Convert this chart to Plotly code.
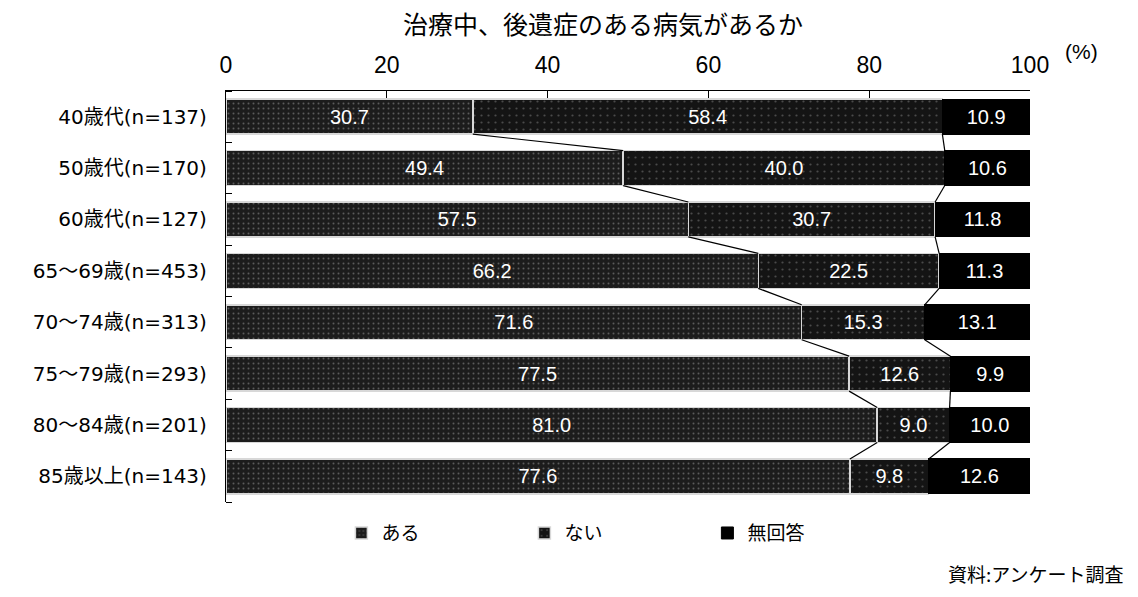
import plotly.graph_objects as go

categories = ["40歳代(n=137)", "50歳代(n=170)", "60歳代(n=127)", "65～69歳(n=453)",
              "70～74歳(n=313)", "75～79歳(n=293)", "80～84歳(n=201)", "85歳以上(n=143)"]
aru = [30.7, 49.4, 57.5, 66.2, 71.6, 77.5, 81.0, 77.6]
nai = [58.4, 40.0, 30.7, 22.5, 15.3, 12.6, 9.0, 9.8]
mukaito = [10.9, 10.6, 11.8, 11.3, 13.1, 9.9, 10.0, 12.6]
series_names = ["ある", "ない", "無回答"]
x_ticks = [0, 20, 40, 60, 80, 100]

FONT = "Liberation Sans, Arial, Noto Sans CJK JP, sans-serif"
LBLFONT = "DejaVu Sans, Noto Sans CJK JP, sans-serif"
CJK = "Noto Sans CJK JP, sans-serif"
ypos = list(range(len(categories)))
W = 0.68

fig = go.Figure()
fig.add_trace(go.Bar(
    y=ypos, x=aru, orientation="h", name=series_names[0], width=W,
    marker=dict(color="#1c1c1c", line=dict(color="#d8d8d8", width=1.5),
                pattern=dict(shape=".", fgcolor="#9a9a9a", bgcolor="#1c1c1c", size=5, solidity=0.12)),
    text=[f"{v:.1f}" for v in aru], textposition="inside", insidetextanchor="middle",
    textfont=dict(color="white", size=20, family=FONT), texttemplate="%{text}",
))
fig.add_trace(go.Bar(
    y=ypos, x=nai, orientation="h", name=series_names[1], width=W,
    marker=dict(color="#141414", line=dict(color="#d8d8d8", width=1.5),
                pattern=dict(shape=".", fgcolor="#808080", bgcolor="#141414", size=7, solidity=0.08)),
    text=[f"{v:.1f}" for v in nai], textposition="inside", insidetextanchor="middle",
    textfont=dict(color="white", size=20, family=FONT), texttemplate="%{text}",
))
fig.add_trace(go.Bar(
    y=ypos, x=mukaito, orientation="h", name=series_names[2], width=W,
    marker=dict(color="#000000", line=dict(color="#000000", width=1)),
    text=[f"{v:.1f}" for v in mukaito], textposition="inside", insidetextanchor="middle",
    textfont=dict(color="white", size=20, family=FONT), texttemplate="%{text}",
))

# connector lines between consecutive bars
shapes = []
for i in range(len(categories) - 1):
    c1a = aru[i]; c2a = aru[i + 1]
    c1b = aru[i] + nai[i]; c2b = aru[i + 1] + nai[i + 1]
    for a, b in ((c1a, c2a), (c1b, c2b)):
        shapes.append(dict(type="line", xref="x", yref="y", x0=a, x1=b,
                           y0=i + W / 2, y1=i + 1 - W / 2,
                           line=dict(color="black", width=1.2)))

fig.update_layout(
    width=1138, height=597,
    margin=dict(l=226, r=108, t=91, b=85),
    paper_bgcolor="white", plot_bgcolor="white",
    barmode="stack", bargap=0.3,
    font=dict(family=FONT, size=17, color="black"),
    showlegend=True,
    legend=dict(orientation="h", xref="container", yref="container",
                x=0.300, y=0.107, xanchor="left", yanchor="middle",
                font=dict(size=19, family=CJK), traceorder="normal",
                entrywidth=138, entrywidthmode="pixels", itemwidth=30),
    shapes=shapes,
    annotations=[
        dict(text="治療中、後遺症のある病気があるか", xref="paper", yref="paper",
             x=(603 - 226) / 804, y=1.0, yshift=68, showarrow=False,
             font=dict(size=25, family=CJK), xanchor="center", yanchor="middle"),
        dict(text="(%)", xref="paper", yref="paper", x=1.0, xshift=33, y=1.0, yshift=40,
             showarrow=False, font=dict(size=21, family=FONT), xanchor="left", yanchor="middle"),
        dict(text="資料:アンケート調査", xref="paper", yref="paper", x=1.0, xshift=96,
             y=0, yshift=-71, showarrow=False, xanchor="right", yanchor="middle",
             font=dict(size=19, family=CJK)),
    ],
)
fig.update_xaxes(range=[0, 100], side="top", tickvals=x_ticks, ticktext=[str(t) for t in x_ticks],
                 showgrid=False, zeroline=False, showline=True, linecolor="black", linewidth=1.2,
                 ticks="inside", ticklen=7, tickcolor="black", ticklabelstandoff=8,
                 tickfont=dict(size=23, family=FONT))
fig.update_yaxes(range=[len(categories) - 0.5, -0.5], tickvals=ypos, ticktext=categories,
                 showgrid=False, zeroline=False, showline=True, linecolor="black", linewidth=1.2,
                 ticks="", ticklabelstandoff=14, tickfont=dict(size=20, family=LBLFONT),
                 minor=dict(ticks="inside", ticklen=6, tick0=0.5, dtick=1, tickcolor="black", showgrid=False))

fig.write_html("out.html")
